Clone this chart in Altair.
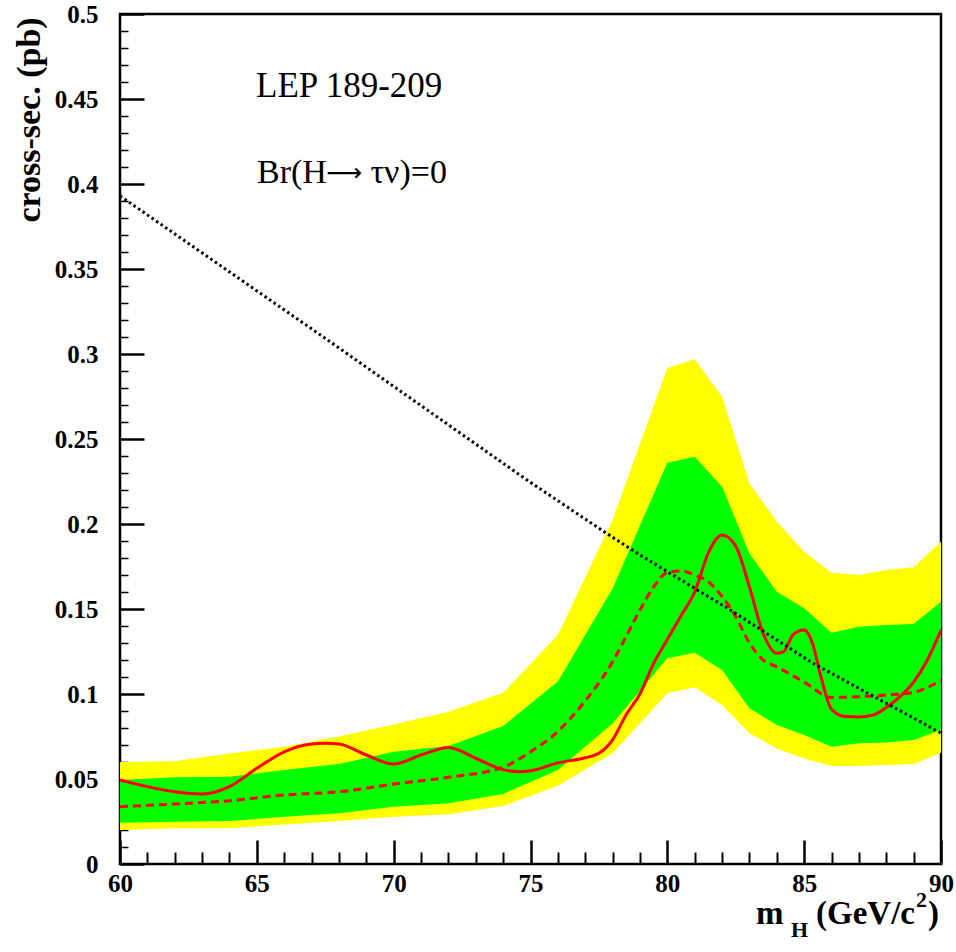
import altair as alt
import pandas as pd

# ---- data ----
band_mass = [60, 62, 64, 66, 68, 70, 72, 74, 76, 78, 80, 81, 82, 83, 84, 85, 86, 87, 88, 89, 90]
yellow_hi = [0.060, 0.0605, 0.065, 0.069, 0.075, 0.082, 0.0895, 0.1007, 0.1347, 0.2024, 0.2918,
             0.2969, 0.2749, 0.2239, 0.2014, 0.1837, 0.1713, 0.170, 0.1729, 0.1745, 0.1896]
green_hi = [0.0494, 0.051, 0.0513, 0.0553, 0.0588, 0.066, 0.0694, 0.0812, 0.1073, 0.1621, 0.2361,
            0.2396, 0.2219, 0.1827, 0.1602, 0.1504, 0.136, 0.1396, 0.1406, 0.1412, 0.1543]
green_lo = [0.0243, 0.0249, 0.0253, 0.0278, 0.0298, 0.0337, 0.0357, 0.0412, 0.0553, 0.0827, 0.121,
            0.1243, 0.1141, 0.0916, 0.0818, 0.0759, 0.069, 0.0710, 0.0714, 0.0729, 0.0788]
yellow_lo = [0.020, 0.021, 0.021, 0.0233, 0.0253, 0.0278, 0.0292, 0.0341, 0.046, 0.0651, 0.1004,
             0.1039, 0.0935, 0.0769, 0.068, 0.0621, 0.0576, 0.0576, 0.0582, 0.0588, 0.0655]

exp_mass = [60, 62, 64, 66, 68, 70, 72, 74, 75, 76, 77, 78, 78.5, 79, 79.5, 80, 80.5, 81, 81.5,
            82, 82.5, 83, 83.5, 84, 85, 86, 87, 88, 89, 90]
exp_val = [0.0337, 0.0353, 0.0372, 0.0406, 0.0425, 0.047, 0.051, 0.057, 0.066, 0.078, 0.096, 0.119,
           0.134, 0.1494, 0.163, 0.1715, 0.1724, 0.170, 0.166, 0.1573, 0.1455, 0.130, 0.120, 0.116,
           0.107, 0.098, 0.0984, 0.0994, 0.101, 0.108]

obs_mass = [60, 61, 62, 63, 64, 65, 66, 67, 67.5, 68, 69, 70, 71, 72, 73, 74, 74.6, 75, 76, 77,
            77.5, 78, 78.5, 79, 79.5, 80, 80.5, 81, 81.5, 82, 82.5, 83, 83.5, 84, 84.25, 84.6, 85,
            85.3, 85.6, 86, 86.5, 87, 87.5, 88, 88.5, 89, 89.5, 90]
obs_val = [0.0494, 0.0455, 0.0425, 0.0412, 0.0455, 0.0563, 0.066, 0.0706, 0.071, 0.0706, 0.0641,
           0.0588, 0.0641, 0.0686, 0.0622, 0.0555, 0.0543, 0.0548, 0.0595, 0.0625, 0.0651, 0.073,
           0.088, 0.100, 0.118, 0.132, 0.146, 0.160, 0.183, 0.1935, 0.187, 0.163, 0.1357, 0.124,
           0.1249, 0.135, 0.1376, 0.130, 0.111, 0.091, 0.0867, 0.0865, 0.0875, 0.092, 0.0984,
           0.107, 0.120, 0.1376]

theo_mass = [60, 67.43, 74.86, 77.78, 79, 82.3, 85.33, 90]
theo_val = [0.393, 0.310, 0.226, 0.1945, 0.1818, 0.1494, 0.118, 0.077]

x_ticks = list(range(60, 91))                       # every 1 GeV, labels every 5
y_ticks = [round(i / 100, 2) for i in range(0, 51)]  # every 0.01, labels every 0.05

# ---- chart ----
W, H = 821, 850
FONT = "Liberation Serif"

xscale = alt.Scale(domain=[60, 90], nice=False, zero=False)
yscale = alt.Scale(domain=[0, 0.5], nice=False, zero=False)

X_MAJOR = "datum.value % 5 == 0"
Y_MAJOR = "abs(datum.value * 20 - round(datum.value * 20)) < 0.0001"

x_axis = alt.Axis(
    values=x_ticks, offset=-24, ticks=True, tickSize=24, tickColor="black",
    tickWidth={"condition": {"test": X_MAJOR, "value": 2.5}, "value": 2},
    tickDash={"condition": {"test": X_MAJOR, "value": [24, 0]}, "value": [0, 12, 12, 100]},
    domain=False, grid=False, title=None, labelOverlap=False, labelFlush=False,
    labelExpr=X_MAJOR + " ? format(datum.value, 'd') : ''",
    labelFont=FONT, labelFontWeight="bold", labelFontSize=25, labelColor="black",
    labelPadding=7)
y_axis = alt.Axis(
    values=y_ticks, offset=-24, ticks=True, tickSize=24, tickColor="black",
    tickWidth={"condition": {"test": Y_MAJOR, "value": 2.5}, "value": 1.5},
    tickDash={"condition": {"test": Y_MAJOR, "value": [24, 0]}, "value": [0, 16, 8, 100]},
    domain=False, grid=False, title=None, labelOverlap=False, labelFlush=False,
    labelExpr=Y_MAJOR + " ? format(datum.value, '~g') : ''",
    labelFont=FONT, labelFontWeight="bold", labelFontSize=25, labelColor="black",
    labelPadding=22)


def X(f):
    return alt.X(f, type="quantitative", scale=xscale, axis=x_axis)


def Y(f):
    return alt.Y(f, type="quantitative", scale=yscale, axis=y_axis)


band = pd.DataFrame({"m": band_mass, "ylo": yellow_lo, "yhi": yellow_hi,
                     "glo": green_lo, "ghi": green_hi})
exp_df = pd.DataFrame({"m": exp_mass, "v": exp_val})
obs_df = pd.DataFrame({"m": obs_mass, "v": obs_val})
theo_df = pd.DataFrame({"m": theo_mass, "v": theo_val})

yellow = alt.Chart(band).mark_area(color="#ffff00", opacity=1).encode(
    x=X("m"), y=Y("ylo"), y2="yhi")
green = alt.Chart(band).mark_area(color="#00ff00", opacity=1).encode(
    x=X("m"), y=Y("glo"), y2="ghi")
expected = alt.Chart(exp_df).mark_line(color="#ff0000", strokeWidth=3, strokeDash=[8, 5],
                                       interpolate="monotone").encode(x=X("m"), y=Y("v"))
observed = alt.Chart(obs_df).mark_line(color="#ff0000", strokeWidth=3,
                                       interpolate="monotone").encode(x=X("m"), y=Y("v"))
theory = alt.Chart(theo_df).mark_line(color="black", strokeWidth=3, strokeDash=[2.5, 3],
                                      interpolate="linear").encode(x=X("m"), y=Y("v"))


def label(txt, x, y, size, weight="normal", align="left", baseline="alphabetic", angle=0,
          font=FONT):
    kw = dict(text=txt, font=font, fontSize=size, fontWeight=weight, align=align,
              baseline=baseline, color="black")
    if angle:
        kw["angle"] = angle
    return alt.Chart(pd.DataFrame({"k": [0]})).mark_text(**kw).encode(
        x=alt.value(x), y=alt.value(y))


texts = [
    label("LEP 189-209", 136, 83, 35),
    label("Br(H", 137, 169, 34),
    label("\u27f6", 224, 159, 25, font="DejaVu Sans", align="center", baseline="middle"),
    label("\u03c4\u03bd)=0", 327, 169, 34, align="right"),
    label("m", 636, 910, 33, "bold"),
    label("H", 671, 923, 22, "bold"),
    label("(GeV/c", 795, 910, 33, "bold", align="right"),
    label("2", 796, 893, 22, "bold"),
    label(")", 808, 910, 33, "bold"),
    label("cross-sec. (pb)", -80, 106, 34, "bold", align="center", angle=270),
]

chart = alt.layer(yellow, green, expected, observed, theory, *texts).properties(
    width=W, height=H,
    autosize=alt.AutoSizeParams(type="none"),
    padding={"left": 120, "top": 14, "right": 15, "bottom": 88},
    background="white",
).configure_view(stroke="black", strokeWidth=2.5)

chart.save("out.html", embed_options={"renderer": "svg", "actions": False})
